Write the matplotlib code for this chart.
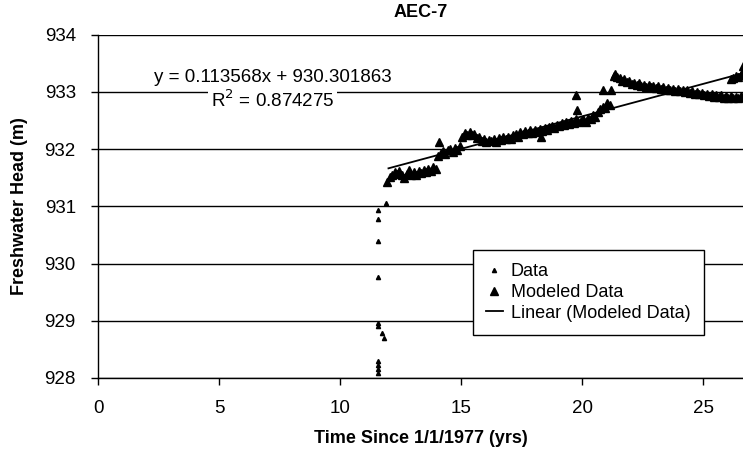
import matplotlib.pyplot as plt
import numpy as np

plt.rcParams['font.family'] = ['Liberation Sans', 'DejaVu Sans']

# measured data (small triangles)
data_x = [11.55, 11.55, 11.55, 11.55, 11.55, 11.55, 11.55, 11.55, 11.55, 11.55, 11.75, 11.8, 11.9]
data_y = [930.94, 930.78, 930.40, 929.77, 928.96, 928.90, 928.30, 928.22, 928.15, 928.09, 928.78, 928.70, 931.06]

# modeled data (large triangles)
model_x = [11.95, 12.05, 12.15, 12.25, 12.35, 12.45, 12.55, 12.65, 12.75, 12.85, 12.95,
           13.05, 13.15, 13.25, 13.35, 13.45, 13.55, 13.65, 13.75, 13.85, 13.95,
           14.05, 14.10, 14.15, 14.25, 14.35, 14.45, 14.55, 14.65, 14.75, 14.85, 14.95,
           15.05, 15.15, 15.25, 15.35, 15.45, 15.55, 15.65, 15.75, 15.85, 15.95, 16.05, 16.15,
           16.25, 16.35, 16.45, 16.55, 16.65, 16.75, 16.85, 16.95, 17.05, 17.15,
           17.25, 17.35, 17.45, 17.55, 17.65, 17.75, 17.85, 17.95, 18.05, 18.15, 18.25, 18.30,
           18.35, 18.45, 18.55,
           18.65, 18.75, 18.85, 18.95, 19.05, 19.15, 19.25, 19.35, 19.45, 19.55, 19.65, 19.75,
           19.75, 19.80, 19.85,
           19.95, 20.05, 20.15, 20.25, 20.35, 20.45, 20.55, 20.65, 20.75, 20.85, 20.85, 20.95,
           21.05, 21.15, 21.20,
           21.30, 21.38, 21.45, 21.55, 21.65, 21.75, 21.85, 21.95, 22.05, 22.15, 22.25, 22.35,
           22.45, 22.55, 22.65, 22.75, 22.85, 22.95, 23.05,
           23.15, 23.25, 23.35, 23.45, 23.55, 23.65, 23.75, 23.85, 23.95, 24.05, 24.15, 24.25,
           24.35, 24.45,
           24.55, 24.65, 24.75, 24.85, 24.95, 25.05, 25.15, 25.25, 25.35, 25.45, 25.55, 25.65,
           25.75, 25.85, 25.95, 26.05, 26.15, 26.25, 26.35, 26.45, 26.55, 26.65,
           26.15, 26.25, 26.35, 26.45, 26.55, 26.62, 26.65]
model_y = [931.42, 931.52, 931.55, 931.60, 931.56, 931.62, 931.55, 931.50, 931.57, 931.63, 931.55,
           931.60, 931.54, 931.62, 931.58, 931.64, 931.60, 931.66, 931.62, 931.68, 931.66,
           931.88, 932.13, 931.93, 931.97, 931.92, 931.98, 932.00, 931.95, 932.02, 931.98, 932.05,
           932.22, 932.28, 932.25, 932.30, 932.24, 932.27, 932.20, 932.22, 932.15, 932.18, 932.12, 932.16,
           932.14, 932.18, 932.13, 932.20, 932.16, 932.21, 932.17, 932.22, 932.18, 932.24,
           932.27, 932.22, 932.30, 932.26, 932.31, 932.28, 932.33, 932.29, 932.34, 932.30, 932.36, 932.22,
           932.32, 932.37, 932.34,
           932.38, 932.41, 932.37, 932.43, 932.40, 932.45, 932.42, 932.47, 932.44, 932.49, 932.46, 932.52,
           932.95, 932.68, 932.48,
           932.50, 932.53, 932.48, 932.55, 932.52, 932.60, 932.56, 932.65, 932.70, 932.74, 933.03, 932.72,
           932.80, 932.78, 933.03,
           933.28, 933.31, 933.27, 933.24, 933.20, 933.22, 933.17, 933.19, 933.14, 933.16, 933.12, 933.15,
           933.10, 933.13, 933.09, 933.12, 933.08, 933.11, 933.07,
           933.10, 933.05, 933.08, 933.04, 933.07, 933.03, 933.06, 933.02, 933.05, 933.01, 933.04, 933.00,
           933.03, 932.99,
           933.02, 932.97, 933.00, 932.96, 932.99, 932.94, 932.97, 932.93, 932.96, 932.92, 932.95, 932.91,
           932.94, 932.90, 932.93, 932.90, 932.93, 932.89, 932.92, 932.90, 932.93, 932.91,
           933.22, 933.25, 933.28, 933.27, 933.30, 933.33, 933.46]

# linear trendline of modeled data
slope = 0.113568
intercept = 930.301863
r2 = 0.874275
fit_x = [12.0, 26.65]

fig = plt.figure(figsize=(7.43, 4.58), dpi=100)
ax = fig.add_axes([0.132, 0.175, 0.868, 0.749])

ax.plot(data_x, data_y, linestyle='none', marker='^', markersize=3, color='black', label='Data', zorder=3)
ax.plot(model_x, model_y, linestyle='none', marker='^', markersize=6, color='black', label='Modeled Data', zorder=3)
fx = np.array(fit_x)
ax.plot(fx, slope * fx + intercept, color='black', linewidth=1.3, label='Linear (Modeled Data)', zorder=4)

ax.set_xlim(0, 26.65)
ax.set_ylim(928, 934)
ax.set_xticks([0, 5, 10, 15, 20, 25])
ax.set_yticks([928, 929, 930, 931, 932, 933, 934])
ax.yaxis.grid(True, color='black', linewidth=1)
ax.set_axisbelow(True)
for s in ['top', 'right']:
    ax.spines[s].set_visible(False)
ax.spines['left'].set_linewidth(1)
ax.spines['bottom'].set_linewidth(1)
ax.tick_params(direction='out', length=5, width=1, labelsize=13.5)
ax.tick_params(axis='x', pad=11)
ax.tick_params(axis='y', pad=11)

ax.set_title('AEC-7', fontsize=13, fontweight='bold', pad=13)
ax.set_xlabel('Time Since 1/1/1977 (yrs)', fontsize=13, fontweight='bold', labelpad=9)
ax.set_ylabel('Freshwater Head (m)', fontsize=13, fontweight='bold', labelpad=12)

ax.text(7.2, 933.25, 'y = 0.113568x + 930.301863', fontsize=13.5, ha='center', va='center',
        bbox=dict(facecolor='white', edgecolor='none', pad=2), zorder=5)
ax.text(7.2, 932.86, 'R$^2$ = 0.874275', fontsize=13.5, ha='center', va='center',
        bbox=dict(facecolor='white', edgecolor='none', pad=2), zorder=5)

leg = ax.legend(loc='upper left', bbox_to_anchor=(0.581, 0.373), fontsize=13, frameon=True,
                fancybox=False, edgecolor='black', framealpha=1, handlelength=0.9,
                handletextpad=0.45, borderpad=0.75, labelspacing=0.2, borderaxespad=0)
leg.get_frame().set_linewidth(1)

fig.savefig('out.png', dpi=100)
